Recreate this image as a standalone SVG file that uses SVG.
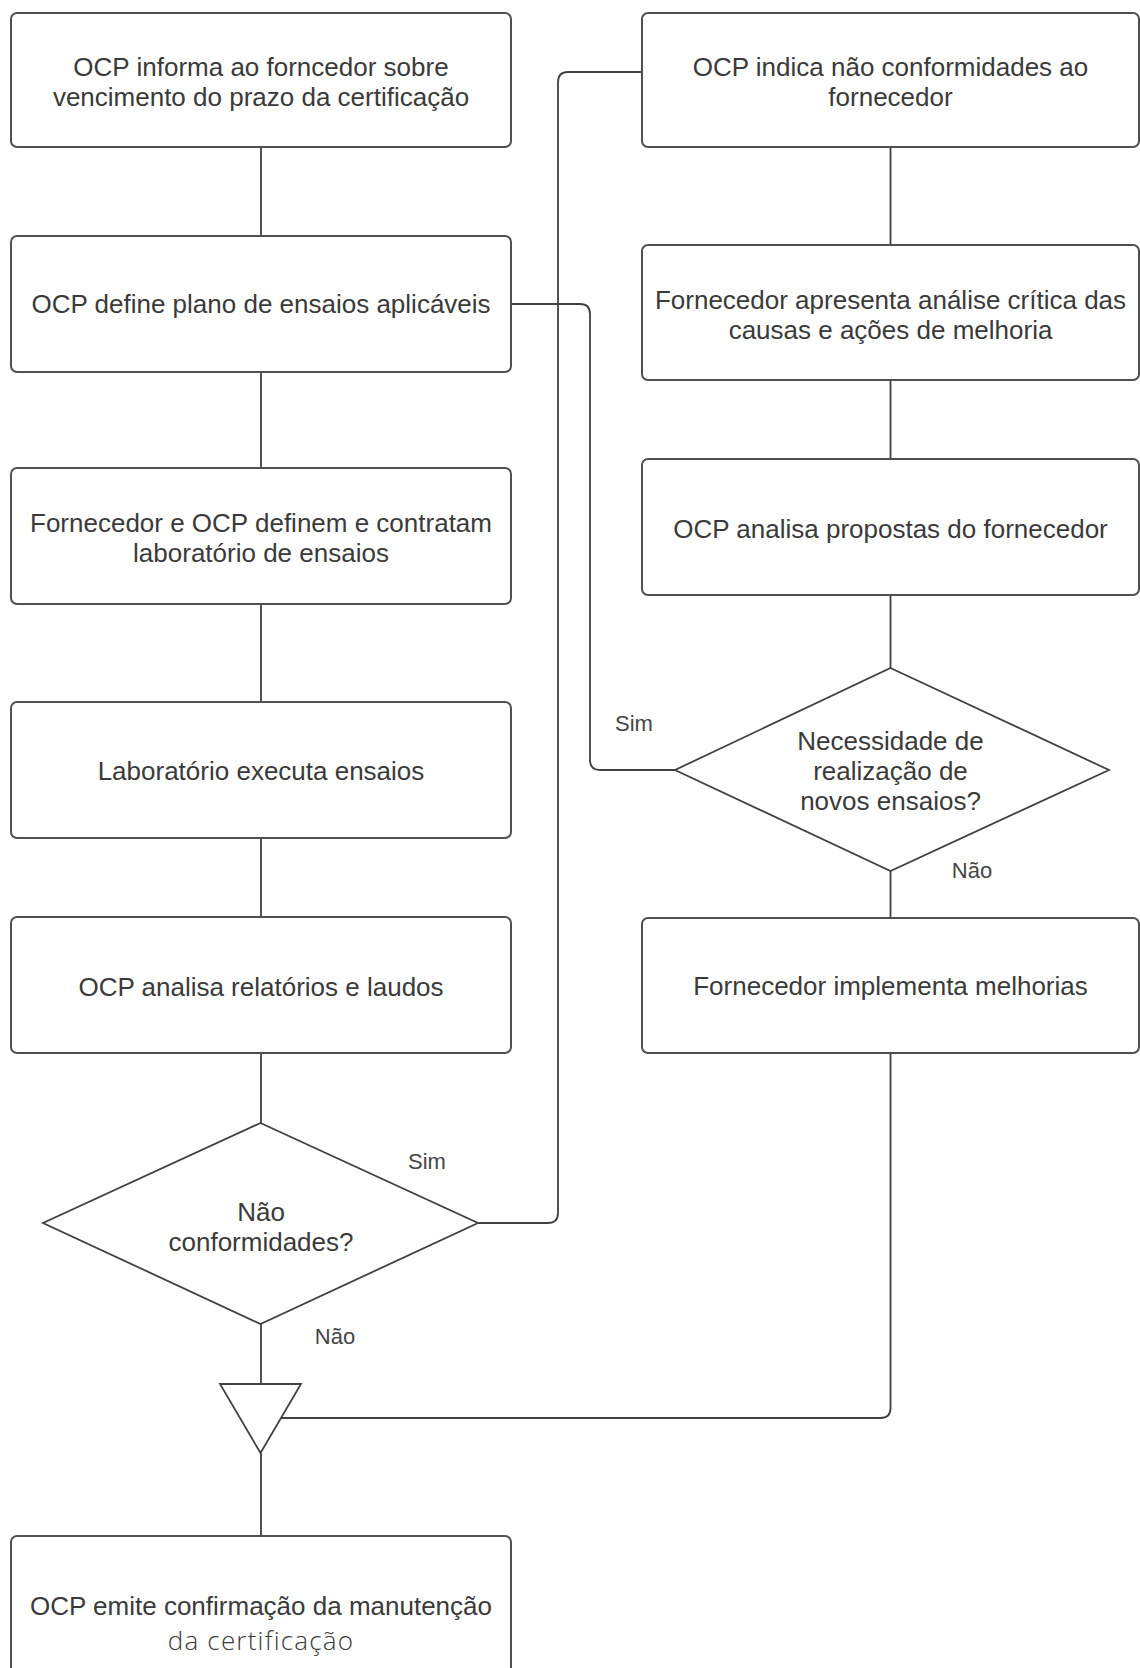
<svg xmlns="http://www.w3.org/2000/svg" width="1140" height="1668" viewBox="0 0 1140 1668">
  <style>
    .box { fill: #ffffff; stroke: #505050; stroke-width: 2; }
    .shape { fill: #ffffff; stroke: #404040; stroke-width: 1.8; stroke-linejoin: miter; }
    .link { fill: none; stroke: #404040; stroke-width: 1.8; }
    .t { font-family: "Liberation Sans", Arial, sans-serif; font-size: 26px; fill: #3a3a3a; text-anchor: middle; }
    .t2 { font-family: "Open Sans", "Liberation Sans", sans-serif; font-weight: 300; font-size: 26px; letter-spacing: 1.2px; fill: #3a3a3a; text-anchor: middle; }
    .lbl { font-family: "Liberation Sans", Arial, sans-serif; font-size: 22px; fill: #454545; text-anchor: middle; }
  </style>
  <rect width="1140" height="1668" fill="#ffffff"/>

  <!-- connectors -->
  <g id="connectors">
    <path class="link" d="M261,147 V236"/>
    <path class="link" d="M261,372 V468"/>
    <path class="link" d="M261,604 V702"/>
    <path class="link" d="M261,838 V917"/>
    <path class="link" d="M261,1053 V1123"/>
    <path class="link" d="M261,1324 V1384"/>
    <path class="link" d="M261,1453 V1536"/>
    <path class="link" d="M890.5,147 V245"/>
    <path class="link" d="M890.5,380 V459"/>
    <path class="link" d="M890.5,595 V668"/>
    <path class="link" d="M890.5,871 V918"/>
    <!-- "Sim" from the lower decision to the non-conformity notice -->
    <path class="link" d="M478,1223 H548 Q558,1223 558,1213 V82 Q558,72 568,72 H642"/>
    <!-- "Sim" from the re-test decision back to the test plan -->
    <path class="link" d="M511,304 H580 Q590,304 590,314 V760 Q590,770 600,770 H675"/>
    <!-- improvements flow into the merge -->
    <path class="link" d="M890.5,1053 V1408 Q890.5,1418 880.5,1418 H281"/>
    <text class="lbl" x="427" y="1169">Sim</text>
    <text class="lbl" x="335" y="1344">Não</text>
    <text class="lbl" x="634" y="731">Sim</text>
    <text class="lbl" x="972" y="878">Não</text>
  </g>

  <!-- left column -->
  <g id="n1">
    <rect class="box" x="11" y="13" width="500" height="134" rx="6"/>
    <text class="t" x="261" y="76">OCP informa ao forncedor sobre</text>
    <text class="t" x="261" y="106">vencimento do prazo da certificação</text>
  </g>
  <g id="n2">
    <rect class="box" x="11" y="236" width="500" height="136" rx="6"/>
    <text class="t" x="261" y="313">OCP define plano de ensaios aplicáveis</text>
  </g>
  <g id="n3">
    <rect class="box" x="11" y="468" width="500" height="136" rx="6"/>
    <text class="t" x="261" y="532">Fornecedor e OCP definem e contratam</text>
    <text class="t" x="261" y="562">laboratório de ensaios</text>
  </g>
  <g id="n4">
    <rect class="box" x="11" y="702" width="500" height="136" rx="6"/>
    <text class="t" x="261" y="780">Laboratório executa ensaios</text>
  </g>
  <g id="n5">
    <rect class="box" x="11" y="917" width="500" height="136" rx="6"/>
    <text class="t" x="261" y="996">OCP analisa relatórios e laudos</text>
  </g>
  <g id="d1">
    <polygon class="shape" points="260.5,1123 478,1223 260.5,1324 43,1223"/>
    <text class="t" x="261" y="1221">Não</text>
    <text class="t" x="261" y="1251">conformidades?</text>
  </g>
  <g id="merge">
    <polygon class="shape" points="220,1384 301,1384 260.5,1453"/>
  </g>
  <g id="n6">
    <rect class="box" x="11" y="1536" width="500" height="140" rx="6"/>
    <text class="t" x="261" y="1615">OCP emite confirmação da manutenção</text>
    <text class="t2" x="261" y="1650">da certificação</text>
  </g>

  <!-- right column -->
  <g id="r1">
    <rect class="box" x="642" y="13" width="497" height="134" rx="6"/>
    <text class="t" x="890.5" y="76">OCP indica não conformidades ao</text>
    <text class="t" x="890.5" y="106">fornecedor</text>
  </g>
  <g id="r2">
    <rect class="box" x="642" y="245" width="497" height="135" rx="6"/>
    <text class="t" x="890.5" y="309">Fornecedor apresenta análise crítica das</text>
    <text class="t" x="890.5" y="339">causas e ações de melhoria</text>
  </g>
  <g id="r3">
    <rect class="box" x="642" y="459" width="497" height="136" rx="6"/>
    <text class="t" x="890.5" y="538">OCP analisa propostas do fornecedor</text>
  </g>
  <g id="d2">
    <polygon class="shape" points="890.5,668 1109,770 890.5,871 675,770"/>
    <text class="t" x="890.5" y="750">Necessidade de</text>
    <text class="t" x="890.5" y="780">realização de</text>
    <text class="t" x="890.5" y="810">novos ensaios?</text>
  </g>
  <g id="r4">
    <rect class="box" x="642" y="918" width="497" height="135" rx="6"/>
    <text class="t" x="890.5" y="995">Fornecedor implementa melhorias</text>
  </g>
</svg>
